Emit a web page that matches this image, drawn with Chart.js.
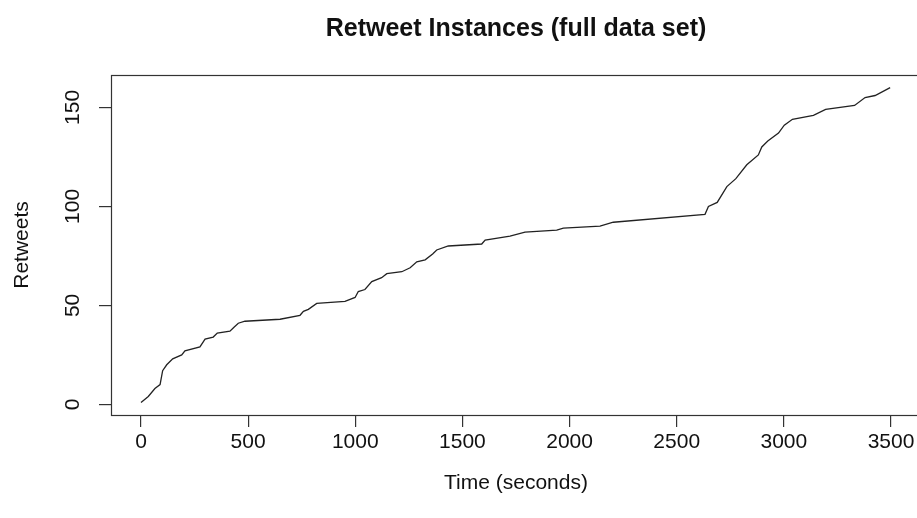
<!DOCTYPE html>
<html>
<head>
<meta charset="utf-8">
<script src="https://cdn.jsdelivr.net/npm/chart.js@4"></script>
<style>
  body { margin: 0; overflow: hidden; background: #fff; }
</style>
</head>
<body>
<canvas id="c" width="930" height="518"></canvas>
<script>
// values
const timeSec = [0, 34, 65, 89, 101, 120, 148, 190, 205, 275, 299, 337, 356, 415, 434, 454, 485, 649, 742, 758,
  781, 820, 952, 999, 1014, 1045, 1077, 1123, 1147, 1217, 1256, 1287, 1326, 1361, 1380, 1434, 1590, 1606, 1722, 1792,
  1940, 1971, 2142, 2204, 2632, 2648, 2689, 2734, 2776, 2827, 2881, 2897, 2925, 2975, 3002, 3040, 3138, 3195, 3330, 3379,
  3426, 3496];
const retweets = [1, 4, 8, 10, 17, 20, 23, 25, 27, 29, 33, 34, 36, 37, 39, 41, 42, 43, 45, 47,
  48, 51, 52, 54, 57, 58, 62, 64, 66, 67, 69, 72, 73, 76, 78, 80, 81, 83, 85, 87,
  88, 89, 90, 92, 96, 100, 102, 110, 114, 121, 126, 130, 133, 137, 141, 144, 146, 149, 151, 155,
  156, 160];
const xTicks = [0, 500, 1000, 1500, 2000, 2500, 3000, 3500];
const yTicks = [0, 50, 100, 150];

const titleText = 'Retweet Instances (full data set)';
const xTitle = 'Time (seconds)';
const yTitle = 'Retweets';

const FONT = '"Liberation Sans", Arial, sans-serif';
const INK = '#222';

const points = timeSec.map((t, i) => ({ x: t, y: retweets[i] }));

// R style frame, title, labels
const rDecor = {
  id: 'rDecor',
  afterDraw(chart) {
    const ctx = chart.ctx;
    const a = chart.chartArea;
    const xs = chart.scales.x, ys = chart.scales.y;
    ctx.save();
    ctx.strokeStyle = '#333';
    ctx.lineWidth = 1.2;
    ctx.strokeRect(a.left + 0.5, a.top + 0.5, a.right - a.left, a.bottom - a.top);

    ctx.fillStyle = '#111';
    const cx = (a.left + a.right) / 2;
    ctx.textAlign = 'center';
    ctx.textBaseline = 'middle';

    ctx.font = 'bold 25px ' + FONT;
    ctx.fillText(titleText, cx, 29);

    ctx.font = '21px ' + FONT;
    xTicks.forEach(v => ctx.fillText(String(v), xs.getPixelForValue(v), 442));
    ctx.fillText(xTitle, cx, 483);

    yTicks.forEach(v => {
      ctx.save();
      ctx.translate(73, ys.getPixelForValue(v));
      ctx.rotate(-Math.PI / 2);
      ctx.fillText(String(v), 0, 0);
      ctx.restore();
    });
    ctx.save();
    ctx.translate(22, (a.top + a.bottom) / 2);
    ctx.rotate(-Math.PI / 2);
    ctx.fillText(yTitle, 0, 0);
    ctx.restore();
    ctx.restore();
  }
};

new Chart(document.getElementById('c').getContext('2d'), {
  type: 'line',
  data: {
    datasets: [{
      data: points,
      borderColor: INK,
      borderWidth: 1.3,
      pointRadius: 0,
      tension: 0,
      fill: false
    }]
  },
  options: {
    responsive: false,
    animation: false,
    devicePixelRatio: 1,
    layout: { padding: { top: 75, right: 9, left: 0, bottom: 0 } },
    plugins: { legend: { display: false }, tooltip: { enabled: false }, title: { display: false } },
    scales: {
      x: {
        type: 'linear',
        min: -140,
        max: 3640,
        afterBuildTicks: s => { s.ticks = xTicks.map(v => ({ value: v })); },
        afterFit: s => { s.height = 103; },
        ticks: { display: false },
        border: { display: false },
        grid: { drawOnChartArea: false, drawTicks: true, tickLength: 12, color: '#333', tickColor: '#333', lineWidth: 1.2 }
      },
      y: {
        type: 'linear',
        min: -5.36,
        max: 166.36,
        afterBuildTicks: s => { s.ticks = yTicks.map(v => ({ value: v })); },
        afterFit: s => { s.width = 111; },
        ticks: { display: false },
        border: { display: false },
        grid: { drawOnChartArea: false, drawTicks: true, tickLength: 12, color: '#333', tickColor: '#333', lineWidth: 1.2 }
      }
    }
  },
  plugins: [rDecor]
});
</script>
</body>
</html>
